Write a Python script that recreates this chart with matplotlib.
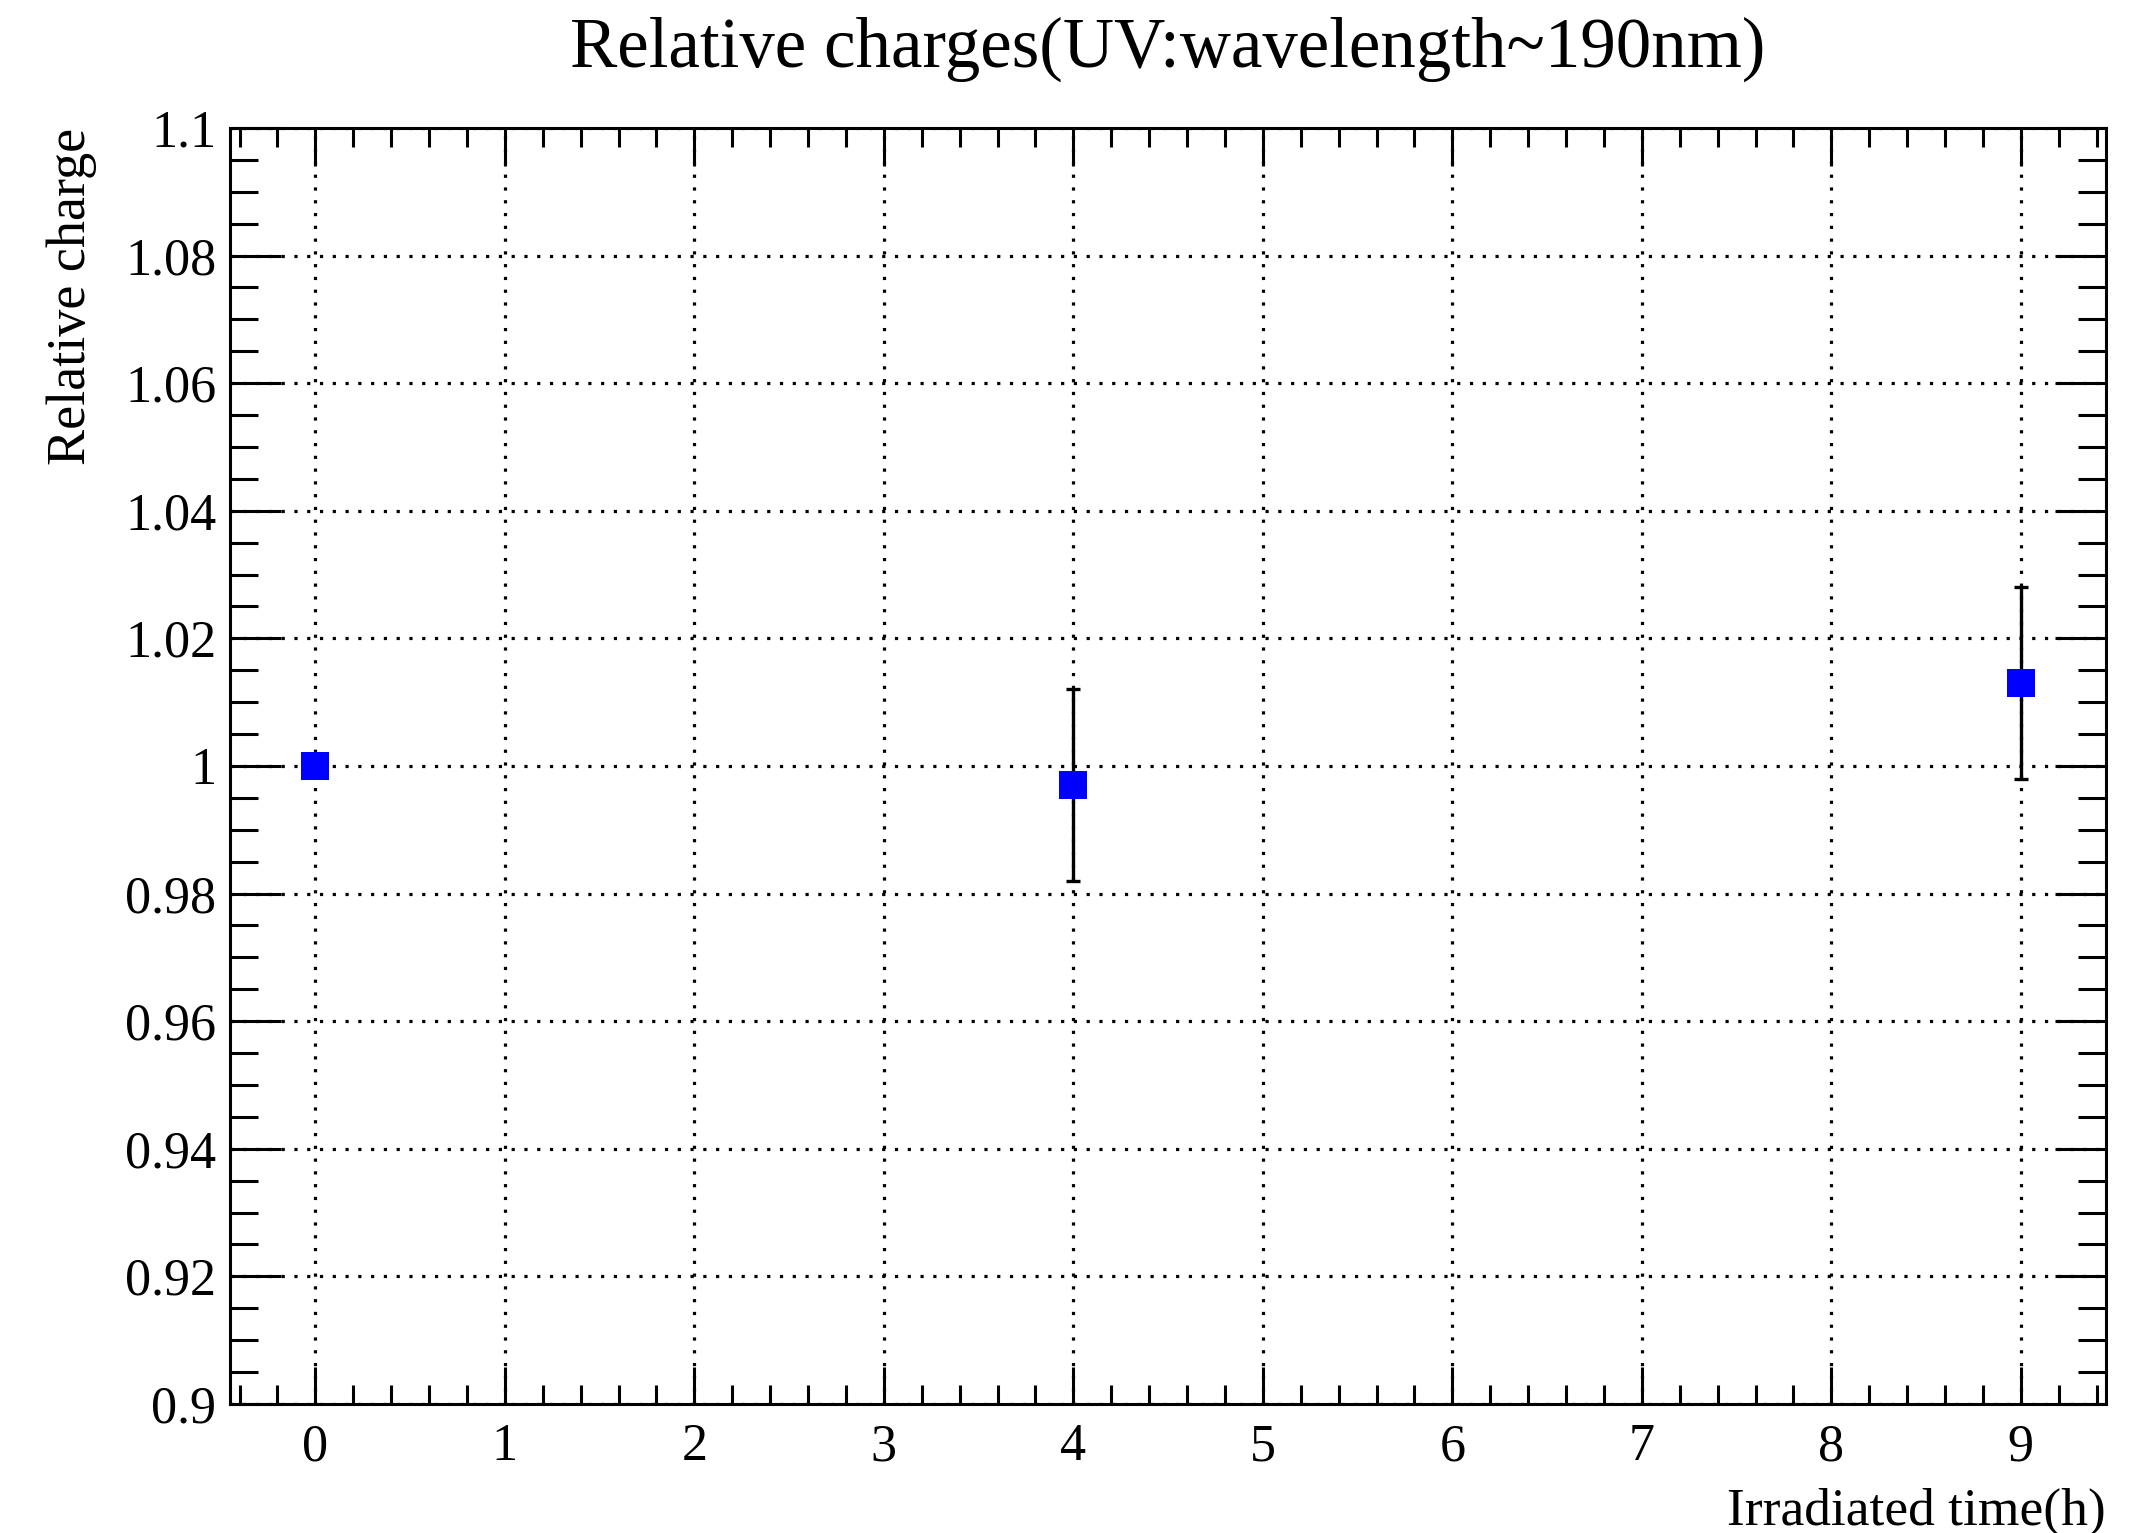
import numpy as np
import matplotlib
matplotlib.use('Agg')
import matplotlib.pyplot as plt
from matplotlib.ticker import MultipleLocator, FixedLocator

# data
irr_time = [0, 4, 9]
rel_charge = [1.000, 0.997, 1.013]
rel_err = [0.0, 0.015, 0.015]

x_ticks = [0, 1, 2, 3, 4, 5, 6, 7, 8, 9]
y_ticks = [0.9, 0.92, 0.94, 0.96, 0.98, 1.0, 1.02, 1.04, 1.06, 1.08, 1.1]
y_tick_labels = ['0.9', '0.92', '0.94', '0.96', '0.98', '1', '1.02', '1.04', '1.06', '1.08', '1.1']

plt.rcParams['font.family'] = ['Liberation Serif', 'DejaVu Serif']

fig = plt.figure(figsize=(21.46, 15.33), dpi=100)
ax = fig.add_axes([0.1072, 0.0842, 0.8742, 0.8323])

ax.set_xlim(-0.45, 9.45)
ax.set_ylim(0.9, 1.1)

ax.xaxis.set_major_locator(FixedLocator(x_ticks))
ax.xaxis.set_minor_locator(MultipleLocator(0.2))
ax.yaxis.set_major_locator(FixedLocator(y_ticks))
ax.set_yticklabels(y_tick_labels)
ax.yaxis.set_minor_locator(MultipleLocator(0.005))

ax.tick_params(which='both', direction='in', top=True, right=True, width=2.2, color='black')
ax.tick_params(axis='x', which='major', length=27, labelsize=37.5, pad=14)
ax.tick_params(axis='x', which='minor', length=13.5)
ax.tick_params(axis='y', which='major', length=37, labelsize=37.5, pad=10)
ax.tick_params(axis='y', which='minor', length=20)

for s in ax.spines.values():
    s.set_linewidth(2.2)

ax.grid(True, which='major', color='black', linestyle=(0, (1, 3)), linewidth=2.3)
ax.set_axisbelow(True)

# error bars (black, with caps), then the blue square markers on top
ax.errorbar(irr_time, rel_charge, yerr=rel_err, fmt='none', ecolor='black',
            elinewidth=2.4, capsize=4.7, capthick=2.4, zorder=3)
ax.plot(irr_time, rel_charge, 's', color='#0000ff', markersize=19.5,
        markeredgewidth=0, zorder=4)

ax.set_title('Relative charges(UV:wavelength~190nm)', fontsize=51, pad=44)
ax.set_xlabel('Irradiated time(h)', fontsize=38.5, loc='right', labelpad=12)
ax.set_ylabel('Relative charge', fontsize=39, loc='top', labelpad=20)

fig.savefig('out.png', dpi=100)
